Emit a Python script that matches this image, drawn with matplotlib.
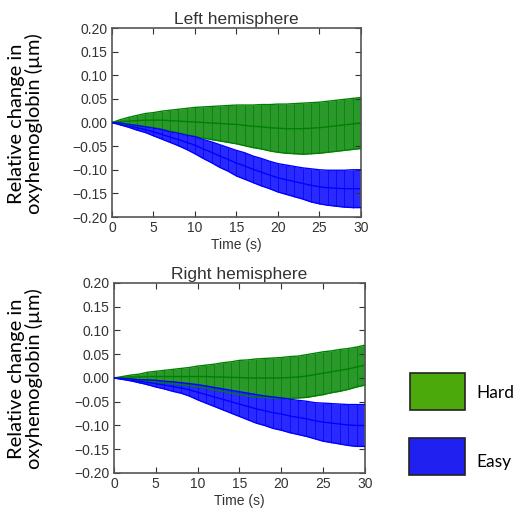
import matplotlib
matplotlib.use('Agg')
import matplotlib.pyplot as plt
from matplotlib.patches import Rectangle
import numpy as np

# --- data (1 s steps) ---
time = list(range(31))

left_hard_mean = [0, .002, .003, .004, .005, .005, .005, .004, .003, .002, .001, 0, -.001, -.002, -.003,
                  -.004, -.006, -.008, -.009, -.011, -.012, -.013, -.013, -.013, -.012, -.011, -.009,
                  -.007, -.005, -.003, -.001]
left_hard_err = [0, .004, .008, .011, .014, .016, .019, .022, .025, .028, .031, .033, .035, .037, .039,
                 .041, .043, .045, .047, .049, .051, .052, .053, .054, .054, .054, .054, .054, .054,
                 .054, .054]
left_easy_mean = [0, -.003, -.007, -.011, -.015, -.020, -.025, -.031, -.036, -.042, -.048, -.056, -.063,
                  -.071, -.078, -.086, -.092, -.099, -.105, -.111, -.117, -.121, -.125, -.129, -.133,
                  -.136, -.138, -.139, -.140, -.140, -.140]
left_easy_err = [0, .002, .003, .005, .006, .008, .010, .011, .013, .015, .018, .020, .022, .024, .025,
                 .027, .028, .028, .029, .029, .030, .031, .032, .033, .035, .036, .037, .038, .039,
                 .040, .040]

right_hard_mean = [0, .001, .002, .002, .003, .003, .003, .003, .003, .003, .003, .003, .002, .002, .001,
                   .001, 0, 0, 0, 0, 0, .001, .002, .004, .007, .010, .013, .016, .019, .023, .027]
right_hard_err = [0, .002, .004, .006, .009, .011, .013, .015, .017, .019, .022, .024, .027, .030, .033,
                  .036, .038, .040, .041, .042, .043, .044, .044, .045, .045, .045, .044, .044, .043,
                  .042, .042]
right_easy_mean = [0, -.002, -.004, -.007, -.009, -.012, -.015, -.018, -.021, -.025, -.030, -.035, -.040,
                   -.045, -.050, -.055, -.060, -.065, -.069, -.073, -.076, -.080, -.083, -.086, -.090,
                   -.093, -.095, -.097, -.099, -.100, -.100]
right_easy_err = [0, .001, .002, .003, .005, .007, .008, .010, .011, .013, .016, .018, .020, .022, .024,
                  .026, .028, .030, .031, .033, .034, .035, .036, .037, .038, .040, .041, .042, .043,
                  .044, .044]

yticks = [0.20, 0.15, 0.10, 0.05, 0.00, -0.05, -0.10, -0.15, -0.20]
xticks = [0, 5, 10, 15, 20, 25, 30]

plt.rcParams['font.family'] = 'Liberation Sans'

fig = plt.figure(figsize=(5.25, 5.15), dpi=100)
ax1 = fig.add_axes([0.2133, 0.5786, 0.474, 0.367])
ax2 = fig.add_axes([0.2171, 0.0816, 0.478, 0.369])


def draw(ax, title, series):
    for mean, err, col, fill in series:
        m = np.array(mean); e = np.array(err)
        ax.fill_between(time, m - e, m + e, color=fill, lw=0, zorder=1)
        ax.errorbar(time, m, yerr=e, color=col, lw=1.0, elinewidth=0.5, capsize=0, zorder=2)
        ax.plot(time, m - e, color=col, lw=1.0, zorder=3)
        ax.plot(time, m + e, color=col, lw=1.0, zorder=3)
    ax.set_xlim(0, 30); ax.set_ylim(-0.2, 0.2)
    ax.set_xticks(xticks); ax.set_yticks(yticks)
    ax.set_yticklabels(['%.2f' % v if v >= 0 else '\u2212%.2f' % -v for v in yticks])
    ax.tick_params(direction='in', length=4, labelsize=10, colors='#333333', right=True, top=True, pad=3)
    for s in ax.spines.values():
        s.set_color('#555555'); s.set_linewidth(1.2)
    ax.set_xlabel('Time (s)', fontsize=10, labelpad=2, color='#333333')
    ax.set_title(title, fontsize=12.5, pad=3, color='#333333')


draw(ax1, 'Left hemisphere', [(left_hard_mean, left_hard_err, '#008000', '#2a982a'),
                              (left_easy_mean, left_easy_err, '#0000ff', '#2a2aff')])
draw(ax2, 'Right hemisphere', [(right_hard_mean, right_hard_err, '#008000', '#2a982a'),
                               (right_easy_mean, right_easy_err, '#0000ff', '#2a2aff')])

ylab = 'Relative change in\noxyhemoglobin (\u00b5m)'
fig.text(0.048, 0.76, ylab, rotation=90, ha='center', va='center', fontsize=14.5,
         family='Lato', linespacing=1.0)
fig.text(0.048, 0.265, ylab, rotation=90, ha='center', va='center', fontsize=14.5,
         family='Lato', linespacing=1.0)

# legend boxes
fig.patches.append(Rectangle((410 / 525, 1 - 410 / 515), 55 / 525, 37 / 515, transform=fig.transFigure,
                             facecolor='#4ca90c', edgecolor='#222222', lw=1.2))
fig.patches.append(Rectangle((409 / 525, 1 - 475 / 515), 56 / 525, 37 / 515, transform=fig.transFigure,
                             facecolor='#2020f0', edgecolor='#222222', lw=1.2))
fig.text(476 / 525, 1 - 393 / 515, 'Hard', fontsize=12.5, family='Lato', va='center')
fig.text(476 / 525, 1 - 462 / 515, 'Easy', fontsize=12.5, family='Lato', va='center')

plt.savefig('out.png', dpi=100)
